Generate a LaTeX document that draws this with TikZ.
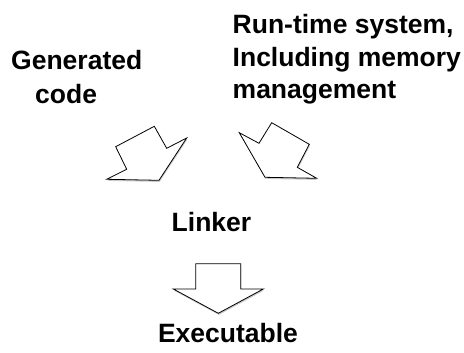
\documentclass[tikz,border=0pt]{standalone}
\usepackage{fontspec}
\setmainfont{Liberation Sans}
\usetikzlibrary{shadows}
\begin{document}
\begin{tikzpicture}[x=1pt,y=-1pt,
  lbl/.style={font=\fontsize{26.5}{32}\selectfont\bfseries, inner sep=0pt},
  blockarrow/.style={draw=black, line width=0.8pt, fill=white, line join=miter,
    drop shadow={shadow xshift=0.6pt, shadow yshift=-1.6pt, opacity=0.35, fill=black!60}}]
\useasboundingbox (0,0) rectangle (464,353);
% texts
\node[lbl, anchor=base west] (gen1) at (11,70) {Generated};
\node[lbl, anchor=base west] (gen2) at (35,103) {code};
\node[lbl, anchor=base west] (rt1) at (232.5,34) {Run-time system,};
\node[lbl, anchor=base west] (rt2) at (232.5,66.5) {Including memory};
\node[lbl, anchor=base west] (rt3) at (232.5,99) {management};
\node[lbl, anchor=base] (linker) at (211.5,231) {Linker};
\node[lbl, anchor=base] (exe) at (228,342) {Executable};
% block arrows
\draw[blockarrow] (115.7,146.7) -- (154.3,126.3) -- (166.7,148.3) -- (186.7,138)
  -- (159,180.3) -- (106.7,179.3) -- (126.7,169.3) -- cycle;
\draw[blockarrow] (271.7,122.7) -- (309.3,144.3) -- (297.3,167.3) -- (316.7,178.3)
  -- (265,177.3) -- (239.3,132.7) -- (259,143.3) -- cycle;
\draw[blockarrow] (195.7,263.7) -- (240.7,263.7) -- (240.7,289) -- (263.3,289)
  -- (218.3,313.3) -- (173.3,289) -- (195.7,289) -- cycle;
\end{tikzpicture}
\end{document}
